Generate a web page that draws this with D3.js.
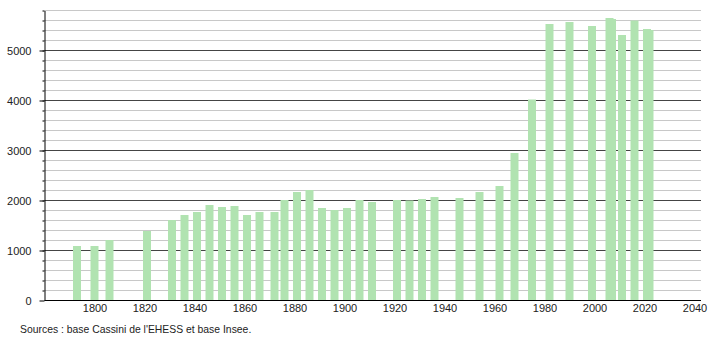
<!DOCTYPE html>
<html lang="fr">
<head>
    <meta charset="UTF-8">
    <script type="text/javascript" src="https://d3js.org/d3.v7.min.js"></script>
    <title>Population</title>
    <style>
        body { margin: 0; background: #fff; }
        text { font-family: "Liberation Sans", Arial, sans-serif; }
    </style>
</head>
<body>
    <svg id="svg"></svg>
    <script>
        const width = 710;
        const height = 340;

        // recensements
        const years = [1793, 1800, 1806, 1821, 1831, 1836, 1841, 1846, 1851, 1856,
                       1861, 1866, 1872, 1876, 1881, 1886, 1891, 1896, 1901, 1906,
                       1911, 1921, 1926, 1931, 1936, 1946, 1954, 1962, 1968, 1975,
                       1982, 1990, 1999, 2006, 2007, 2011, 2016, 2021, 2022];
        const population = [1080, 1080, 1200, 1380, 1600, 1700, 1760, 1900, 1860, 1880,
                            1700, 1760, 1760, 2000, 2160, 2200, 1840, 1800, 1840, 2000,
                            1960, 2000, 1990, 2020, 2060, 2040, 2160, 2280, 2940, 4010,
                            5520, 5560, 5480, 5640, 5620, 5300, 5590, 5420, 5400];
        const xTicks = d3.range(1800, 2041, 20);
        const yMajor = d3.range(0, 5001, 1000);
        const yMinor = d3.range(200, 5801, 200);
        const source = "Sources : base Cassini de l'EHESS et base Insee.";

        const x = d3.scaleLinear().domain([1780, 2042]).range([44.5, 699.5]);
        const y = d3.scaleLinear().domain([0, 5800]).range([300, 10]);
        const barW = 8;

        const svg = d3.select("#svg").attr("width", width).attr("height", height);

        // grille
        svg.append("g").selectAll("line").data(yMinor.filter(v => v % 1000 != 0)).join("line")
            .attr("x1", x.range()[0]).attr("x2", x.range()[1] + 1.5)
            .attr("y1", d => Math.round(y(d)) + 0.5).attr("y2", d => Math.round(y(d)) + 0.5)
            .attr("stroke", "#c8c8c8");
        svg.append("g").selectAll("line").data(yMajor.filter(v => v > 0)).join("line")
            .attr("x1", x.range()[0]).attr("x2", x.range()[1] + 1.5)
            .attr("y1", d => Math.round(y(d)) + 0.5).attr("y2", d => Math.round(y(d)) + 0.5)
            .attr("stroke", "#444");

        // barres
        svg.append("g").selectAll("rect").data(years).join("rect")
            .attr("x", (d) => x(d) - barW / 2)
            .attr("y", (d, i) => y(population[i]))
            .attr("width", barW)
            .attr("height", (d, i) => y(0) - y(population[i]))
            .attr("fill", "#b1e3b1");

        // axe y
        svg.append("g").attr("transform", "translate(44.5,0.5)")
            .call(d3.axisLeft(y).tickValues(yMinor).tickSize(2).tickFormat(""))
            .call(g => g.select(".domain").remove())
            .call(g => g.selectAll("line").attr("stroke", "#000"));
        svg.append("g").attr("transform", "translate(44.5,0.5)")
            .call(d3.axisLeft(y).tickValues(yMajor).tickSize(5).tickPadding(8).tickSizeOuter(0).tickFormat(d3.format("d")))
            .call(g => g.select(".domain").attr("stroke", "#000"))
            .call(g => g.selectAll("text").attr("font-size", 11).attr("fill", "#222")
                .attr("font-family", "Liberation Sans, Arial, sans-serif"));

        // axe x
        svg.append("g").attr("transform", "translate(0,300.5)")
            .call(d3.axisBottom(x).tickValues(xTicks).tickSize(0).tickPadding(4).tickFormat(d3.format("d")))
            .call(g => g.select(".domain").attr("stroke", "#000").attr("d", `M${x.range()[0]},0H${x.range()[1] + 1.5}`))
            .call(g => g.selectAll("text").attr("font-size", 11).attr("fill", "#222")
                .attr("font-family", "Liberation Sans, Arial, sans-serif"));

        svg.append("text").attr("x", 20).attr("y", 333)
            .attr("font-size", 10.4).attr("fill", "#222")
            .text(source);
    </script>
</body>
</html>
